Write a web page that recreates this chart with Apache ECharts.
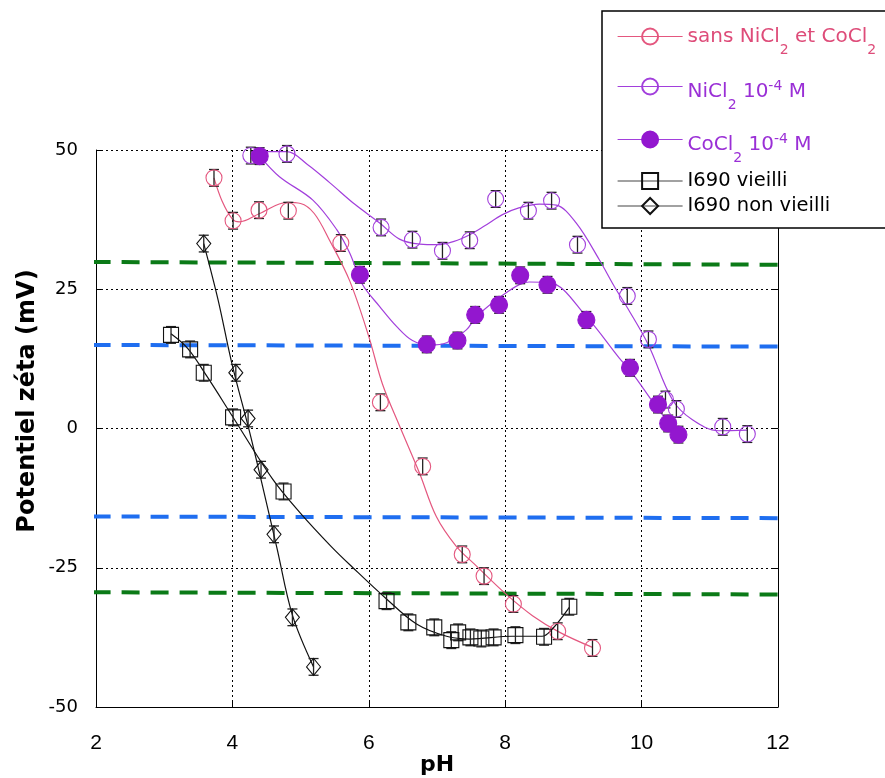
<!DOCTYPE html>
<html><head><meta charset="utf-8">
<script src="https://cdn.jsdelivr.net/npm/echarts@6/dist/echarts.min.js"></script>
<style>html,body{margin:0;padding:0;background:#fff}#c{width:885px;height:778px}</style>
</head><body><div id="c"></div>
<script>
// ---- data ----
const xTickValues = [2, 4, 6, 8, 10, 12];
const yTickValues = [-50, -25, 0, 25, 50];

const seriesNames = ['sans NiCl2 et CoCl2', 'NiCl2 10-4 M', 'CoCl2 10-4 M', 'I690 vieilli', 'I690 non vieilli'];

const pinkData = [[3.73,45.0],[4.01,37.3],[4.39,39.2],[4.82,39.1],[5.59,33.3],[6.17,4.7],[6.79,-6.8],[7.37,-22.6],[7.69,-26.5],[8.12,-31.5],[8.77,-36.4],[9.28,-39.4]];
const pinkFit  = [[3.73,45.0],[3.85,40.8],[4.0,37.6],[4.1,37.1],[4.4,38.6],[4.8,40.6],[5.0,40.4],[5.2,38.6],[5.42,33.9],[5.72,26.5],[6.0,16.5],[6.2,8.0],[6.45,0.5],[6.74,-7.9],[6.99,-15.8],[7.28,-21.1],[7.58,-24.7],[8.0,-29.6],[8.4,-33.6],[8.8,-36.6],[9.28,-39.3]];

const niData = [[4.27,49.0],[4.80,49.3],[6.18,36.1],[6.64,33.9],[7.08,31.9],[7.48,33.8],[7.86,41.2],[8.34,39.1],[8.68,40.9],[9.06,33.0],[9.79,23.8],[10.10,16.0],[10.35,5.2],[10.51,3.5],[11.19,0.3],[11.55,-1.0]];
const niFit  = [[4.27,49.7],[4.8,49.7],[5.1,47.4],[5.43,44.1],[5.8,40.2],[6.16,36.9],[6.45,34.0],[6.75,33.1],[7.0,33.0],[7.25,33.6],[7.48,34.8],[7.7,36.4],[7.96,38.4],[8.2,39.6],[8.5,40.3],[8.75,40.1],[9.04,36.9],[9.38,30.3],[9.6,25.5],[9.8,21.5],[10.1,15.0],[10.45,5.2],[10.74,1.6],[11.13,-0.4],[11.55,-0.3]];

const coData = [[4.40,48.9],[5.87,27.6],[6.85,15.1],[7.30,15.8],[7.56,20.4],[7.91,22.2],[8.22,27.5],[8.62,25.8],[9.19,19.5],[9.83,10.9],[10.24,4.3],[10.39,0.9],[10.54,-1.1]];
const coFit  = [[4.40,48.9],[4.69,45.2],[5.18,41.0],[5.53,35.7],[5.72,31.5],[5.91,25.8],[6.16,21.9],[6.41,18.3],[6.64,15.8],[6.9,15.0],[7.14,15.4],[7.43,17.7],[7.58,20.1],[8.02,24.4],[8.35,26.3],[8.65,26.2],[9.19,20.1],[9.67,12.7],[9.86,10.0],[10.21,4.0],[10.55,-1.4]];

const sqData = [[3.10,16.8],[3.38,14.2],[3.58,10.0],[4.01,2.0],[4.75,-11.3],[6.26,-31.0],[6.58,-34.8],[6.96,-35.7],[7.21,-38.0],[7.31,-36.6],[7.49,-37.5],[7.65,-37.7],[7.83,-37.5],[8.15,-37.1],[8.57,-37.4],[8.94,-32.0]];
const sqFit  = [[3.10,17.0],[3.35,14.3],[3.63,9.3],[4.0,2.2],[4.59,-9.1],[4.99,-15.1],[5.45,-21.2],[5.76,-24.9],[6.26,-30.6],[6.7,-35.1],[7.14,-37.3],[7.48,-37.8],[8.1,-37.3],[8.54,-37.3],[8.69,-36.0],[8.94,-32.1]];

const diaData = [[3.58,33.2],[4.05,10.0],[4.23,1.8],[4.42,-7.4],[4.61,-19.0],[4.88,-33.9],[5.19,-42.8]];
const diaFit  = [[3.58,33.2],[3.79,23.1],[3.99,11.8],[4.28,-2.0],[4.65,-21.3],[4.88,-33.5],[5.19,-42.8]];

const errHalf = 1.5; // half-height of error bars (mV)

const refGreenPos = [[1.95,29.9],[12.05,29.4]];
const refBluePos  = [[1.95,15.0],[12.05,14.7]];
const refBlueNeg  = [[1.95,-15.8],[12.05,-16.1]];
const refGreenNeg = [[1.95,-29.4],[12.05,-29.8]];

// ---- styles ----
const SANS = '"Liberation Sans", Arial, sans-serif';
const WIDE = '"DejaVu Sans", sans-serif';
const PINK = '#e4577f';
const PINK_TXT = '#de4c79';
const PURP = '#a23fdc';
const PURP_TXT = '#9a2fd6';
const PURP_FILL = '#9317cf';
const GREEN = '#0b7a17';
const BLUE = '#1f6ef0';

function errSeries(pts) {
  return {
    type: 'custom', silent: true, z: 3,
    data: pts.map(p => [p[0], p[1] - errHalf, p[1] + errHalf]),
    renderItem: function (params, api) {
      const top = api.coord([api.value(0), api.value(2)]);
      const bot = api.coord([api.value(0), api.value(1)]);
      const w = 5;
      const st = { stroke: '#222', lineWidth: 1.3 };
      return { type: 'group', children: [
        { type: 'line', shape: { x1: top[0], y1: top[1], x2: bot[0], y2: bot[1] }, style: st },
        { type: 'line', shape: { x1: top[0]-w, y1: top[1], x2: top[0]+w, y2: top[1] }, style: st },
        { type: 'line', shape: { x1: bot[0]-w, y1: bot[1], x2: bot[0]+w, y2: bot[1] }, style: st }
      ]};
    }
  };
}
function fitSeries(pts, color) {
  return { type: 'line', data: pts, smooth: 0.35, showSymbol: false, symbol: 'none', silent: true, z: 2,
    lineStyle: { color: color, width: 1.2 } };
}
function refSeries(pts, color) {
  return { type: 'line', data: pts, symbol: 'none', silent: true, clip: false, z: 1,
    lineStyle: { color: color, width: 4, type: [18, 11] } };
}
function markSeries(name, pts, symbol, size, fill, border, lineColor) {
  return { name: name, type: 'line', data: pts, symbol: symbol, symbolSize: size, z: 4,
    itemStyle: { color: fill, borderColor: border, borderWidth: 1.1 },
    lineStyle: { color: lineColor, width: 0 } };
}

const richBase = (color, size, padTop) => ({
  fontFamily: WIDE, fontSize: size, color: color, lineHeight: 41, padding: [padTop, 0, 0, 0],
  rich: {
    sub: { fontFamily: WIDE, fontSize: 14, color: color, verticalAlign: 'bottom' },
    sup: { fontFamily: WIDE, fontSize: 14, color: color, verticalAlign: 'top', padding: [8, 0, 0, 0] }
  }
});
const legendLabels = {
  'sans NiCl2 et CoCl2': 'sans NiCl{sub|2} et CoCl{sub|2}',
  'NiCl2 10-4 M': 'NiCl{sub|2} 10{sup|-4} M',
  'CoCl2 10-4 M': 'CoCl{sub|2} 10{sup|-4} M',
  'I690 vieilli': 'I690 vieilli',
  'I690 non vieilli': 'I690 non vieilli'
};
function mkLegend(name, top, textStyle) {
  return { data: [name], left: 617, top: top, orient: 'vertical', itemWidth: 65, itemHeight: 20,
    padding: 0, itemGap: 0, selectedMode: false, z: 20,
    lineStyle: { width: 1.2 },
    formatter: n => legendLabels[n], textStyle: textStyle };
}

const chart = echarts.init(document.getElementById('c'), null, { renderer: 'canvas' });
chart.setOption({
  animation: false,
  backgroundColor: '#fff',
  grid: { left: 96, right: 107, top: 150, bottom: 71, containLabel: false, outerBoundsMode: 'none' },
  xAxis: {
    type: 'value', min: xTickValues[0], max: xTickValues[xTickValues.length-1], interval: 2,
    name: 'pH', nameLocation: 'middle', nameGap: 47, nameMoveOverlap: false,
    nameTextStyle: { fontFamily: WIDE, fontSize: 22, fontWeight: 'bold', color: '#000' },
    axisLine: { onZero: false, lineStyle: { color: '#000', width: 1 } },
    axisTick: { inside: true, length: 5, lineStyle: { color: '#000' } },
    axisLabel: { fontFamily: SANS, fontSize: 21, color: '#000', margin: 26 },
    splitLine: { show: true, lineStyle: { color: '#000', width: 1, type: [2, 3] } }
  },
  yAxis: [{
    type: 'value', min: yTickValues[0], max: yTickValues[yTickValues.length-1], interval: 25,
    axisLine: { show: true, onZero: false, lineStyle: { color: '#000', width: 1 } },
    axisTick: { show: true, inside: true, length: 5, lineStyle: { color: '#000' } },
    axisLabel: { fontFamily: WIDE, fontSize: 18, color: '#000', margin: 18 },
    splitLine: { show: true, lineStyle: { color: '#000', width: 1, type: [2, 3] } }
  }, {
    type: 'value', position: 'right', min: -50, max: 50, interval: 25,
    axisLine: { show: true, onZero: false, lineStyle: { color: '#000', width: 1 } },
    axisTick: { show: true, inside: true, length: 5, lineStyle: { color: '#000' } },
    axisLabel: { show: false }, splitLine: { show: false }
  }],
  legend: [
    mkLegend(seriesNames[0], 16, richBase(PINK_TXT, 20, 0)),
    mkLegend(seriesNames[1], 61, richBase(PURP_TXT, 20, 10)),
    mkLegend(seriesNames[2], 114, richBase(PURP_TXT, 20, 10)),
    mkLegend(seriesNames[3], 171, { fontFamily: WIDE, fontSize: 19.5, color: '#000' }),
    mkLegend(seriesNames[4], 196, { fontFamily: WIDE, fontSize: 19.5, color: '#000' })
  ],
  graphic: [
    { type: 'rect', z: 15, shape: { x: 602, y: 11, width: 300, height: 217 },
      style: { fill: '#fff', stroke: '#000', lineWidth: 1.5 } },
    { type: 'text', z: 15, x: 28, y: 401, rotation: Math.PI / 2,
      style: { text: 'Potentiel zéta (mV)', fontFamily: WIDE, fontSize: 24, fontWeight: 'bold',
        fill: '#000', align: 'center', verticalAlign: 'middle' } }
  ],
  series: [
    refSeries(refGreenPos, GREEN), refSeries(refBluePos, BLUE),
    refSeries(refBlueNeg, BLUE), refSeries(refGreenNeg, GREEN),
    fitSeries(pinkFit, PINK), fitSeries(niFit, PURP), fitSeries(coFit, PURP),
    fitSeries(sqFit, '#111'), fitSeries(diaFit, '#111'),
    errSeries(pinkData), errSeries(niData), errSeries(coData), errSeries(sqData), errSeries(diaData),
    markSeries(seriesNames[0], pinkData, 'circle', 16, 'rgba(0,0,0,0)', PINK, PINK),
    markSeries(seriesNames[1], niData, 'circle', 16, 'rgba(0,0,0,0)', PURP, PURP),
    markSeries(seriesNames[2], coData, 'circle', 17, PURP_FILL, PURP_FILL, PURP),
    markSeries(seriesNames[3], sqData, 'rect', 15, 'rgba(0,0,0,0)', '#111', '#444'),
    markSeries(seriesNames[4], diaData, 'diamond', [14, 17], 'rgba(0,0,0,0)', '#111', '#444')
  ]
});
</script>
</body></html>
